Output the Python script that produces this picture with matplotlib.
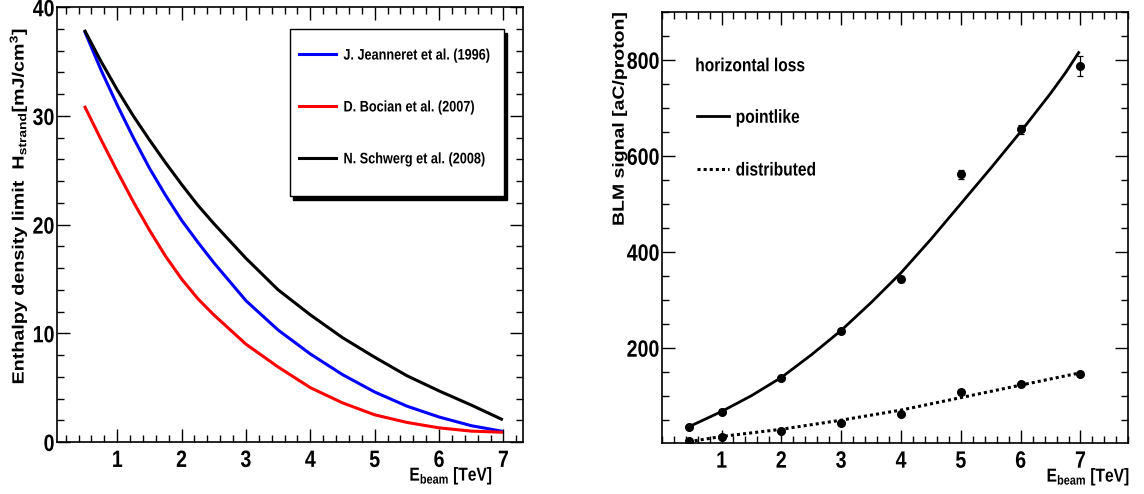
import matplotlib
matplotlib.use("Agg")
import matplotlib.pyplot as plt
from matplotlib.patches import Rectangle
from matplotlib.patheffects import AbstractPathEffect
from matplotlib.ticker import MultipleLocator
from matplotlib.transforms import Affine2D

plt.rcParams["font.family"] = ["Liberation Sans", "DejaVu Sans"]
plt.rcParams["font.weight"] = "bold"
plt.rcParams["mathtext.fontset"] = "custom"
plt.rcParams["mathtext.rm"] = "Liberation Sans:bold"
plt.rcParams["mathtext.it"] = "Liberation Sans:bold"
plt.rcParams["mathtext.bf"] = "Liberation Sans:bold"
plt.rcParams["mathtext.default"] = "rm"

# left panel: enthalpy limit curves vs beam energy
e_curve = [0.5, 0.75, 1.0, 1.25, 1.5, 1.75, 2.0, 2.25, 2.5, 3.0, 3.5, 4.0, 4.5, 5.0, 5.5, 6.0, 6.5, 6.97]
h_jeanneret = [37.7, 34.2, 31.0, 28.0, 25.2, 22.7, 20.4, 18.4, 16.5, 13.0, 10.3, 8.1, 6.2, 4.6, 3.3, 2.3, 1.5, 1.0]
h_bocian = [30.8, 27.8, 24.9, 22.1, 19.5, 17.1, 15.0, 13.2, 11.7, 9.0, 6.9, 5.0, 3.6, 2.5, 1.8, 1.3, 1.0, 0.9]
h_schwerg = [37.8, 35.0, 32.4, 30.0, 27.8, 25.7, 23.7, 21.8, 20.1, 16.9, 14.0, 11.7, 9.6, 7.8, 6.1, 4.7, 3.4, 2.1]
left_labels = ["J. Jeanneret et al. (1996)", "D. Bocian et al. (2007)", "N. Schwerg et al. (2008)"]
left_colors = ["#0000ff", "#ff0000", "#000000"]

# right panel: BLM signal, measured points and fits
e_points = [0.45, 1, 2, 3, 4, 5, 6, 7]
blm_pointlike = [35, 67, 137, 235, 343, 561, 655, 787]
blm_pointlike_err = [4, 5, 5, 5, 6, 10, 10, 20]
blm_distributed = [6, 14, 27, 43, 61, 108, 124, 145]
blm_distributed_err = [3, 3, 3, 3, 3, 4, 4, 4]

e_fit = [0.45, 1.0, 1.5, 2.0, 2.5, 3.0, 3.5, 4.0, 4.5, 5.0, 5.5, 6.0, 6.5, 6.75, 6.97]
fit_pointlike = [35, 67, 100, 138, 185, 236, 294, 356, 426, 500, 574, 650, 730, 773, 815]
e_fit_dist = [0.45, 1, 2, 3, 4, 5, 6, 6.97]
fit_distributed = [4, 15, 30, 49, 70, 96, 122, 147]


class Squeeze(AbstractPathEffect):
    """Narrow text horizontally (ROOT output was squeezed), keeping one edge fixed."""

    def __init__(self, sx=0.83, anchor="center"):
        super().__init__()
        self.sx = sx
        self.anchor = anchor

    def draw_path(self, renderer, gc, tpath, affine, rgbFace=None):
        ext = tpath.get_extents(affine)
        cx = {"left": ext.x0, "right": ext.x1}.get(self.anchor, 0.5 * (ext.x0 + ext.x1))
        t = affine + Affine2D().translate(-cx, 0).scale(self.sx, 1).translate(cx, 0)
        renderer.draw_path(gc, tpath, t, rgbFace)


def squeeze(texts, anchor="center"):
    for t in texts:
        t.set_path_effects([Squeeze(anchor=anchor)])


def style_axes(ax, xmaj, xmin, ymaj, ymin):
    ax.xaxis.set_major_locator(MultipleLocator(xmaj))
    ax.xaxis.set_minor_locator(MultipleLocator(xmin))
    ax.yaxis.set_major_locator(MultipleLocator(ymaj))
    ax.yaxis.set_minor_locator(MultipleLocator(ymin))
    ax.tick_params(which="both", direction="in", top=True, right=True, width=1.0)
    ax.tick_params(which="major", length=9.5)
    ax.tick_params(which="minor", length=4.8)
    ax.tick_params(axis="y", which="major", labelsize=17, pad=1.5)
    ax.tick_params(axis="x", which="major", labelsize=17, pad=5)
    for s in ax.spines.values():
        s.set_linewidth(1.2)


fig = plt.figure(figsize=(11.44, 4.94), dpi=100)

# ---- left panel
ax1 = fig.add_axes([0.0496, 0.1053, 0.4073, 0.880])
for vals, lab, col in zip([h_jeanneret, h_bocian, h_schwerg], left_labels, left_colors):
    ax1.plot(e_curve, vals, color=col, lw=2.2, label=lab)
ax1.set_xlim(0.06, 7.3)
ax1.set_ylim(0, 40)
style_axes(ax1, 1, 0.2, 10, 2)
ax1.set_xticks([1, 2, 3, 4, 5, 6, 7])
ax1.set_yticks([0, 10, 20, 30, 40])
squeeze(ax1.get_xticklabels())
squeeze(ax1.get_yticklabels(), "right")

box_x, box_y, box_w, box_h = 0.5006, 0.566, 0.4584, 0.383
ax1.add_patch(Rectangle((box_x + 0.0064, box_y - 0.0092), box_w, box_h, transform=ax1.transAxes,
                        facecolor="black", edgecolor="black", zorder=4))
ax1.add_patch(Rectangle((box_x, box_y), box_w, box_h, transform=ax1.transAxes,
                        facecolor="white", edgecolor="black", lw=1.0, zorder=5))
leg1 = ax1.legend(loc="upper left", bbox_to_anchor=(0.520, 0.905), borderaxespad=0, borderpad=0,
                  frameon=False, handlelength=2.4, handletextpad=0.5, labelspacing=2.48,
                  prop={"size": 11, "weight": "bold"})
leg1.set_zorder(6)
squeeze(leg1.get_texts(), "left")

t = fig.text(0.431, 0.036, r"E$_{beam}$ [TeV]", ha="right", va="center", fontsize=13.5)
squeeze([t], "right")
t = fig.text(0.0157, 0.945, r"Enthalpy density limit  H$_{strand}$[mJ/cm$^{3}$]", rotation=90,
             ha="center", va="top", fontsize=14.2)
squeeze([t])

# ---- right panel
ax2 = fig.add_axes([0.5784, 0.1038, 0.4079, 0.8723])
ax2.plot(e_fit, fit_pointlike, color="black", lw=2.0, label="pointlike")
ax2.plot(e_fit_dist, fit_distributed, color="black", lw=2.2, linestyle=(0, (1, 1)), label="distributed")
ax2.errorbar(e_points, blm_pointlike, yerr=blm_pointlike_err, fmt="o", color="black", ms=5.5,
             elinewidth=0.9, capsize=2, capthick=0.9)
ax2.errorbar(e_points, blm_distributed, yerr=blm_distributed_err, fmt="o", color="black", ms=5.5,
             elinewidth=0.9, capsize=2, capthick=0.9)
ax2.set_xlim(0, 7.8)
ax2.set_ylim(2, 900)
style_axes(ax2, 1, 0.2, 200, 50)
ax2.set_xticks([1, 2, 3, 4, 5, 6, 7])
ax2.set_yticks([200, 400, 600, 800])
squeeze(ax2.get_xticklabels())
squeeze(ax2.get_yticklabels(), "right")

t = ax2.text(0.0714, 0.8726, "horizontal loss", transform=ax2.transAxes, ha="left", va="center",
             fontsize=13.5)
squeeze([t], "left")
leg2 = ax2.legend(loc="upper left", bbox_to_anchor=(0.075, 0.773), borderaxespad=0, borderpad=0,
                  frameon=False, handlelength=1.72, handletextpad=0.35, labelspacing=1.9,
                  prop={"size": 13.5, "weight": "bold"})
squeeze(leg2.get_texts(), "left")

t = fig.text(0.988, 0.034, r"E$_{beam}$ [TeV]", ha="right", va="center", fontsize=13.5)
squeeze([t], "right")
t = fig.text(0.542, 0.976, "BLM signal [aC/proton]", rotation=90, ha="center", va="top", fontsize=14)
squeeze([t])

fig.savefig("out.png", dpi=100)
